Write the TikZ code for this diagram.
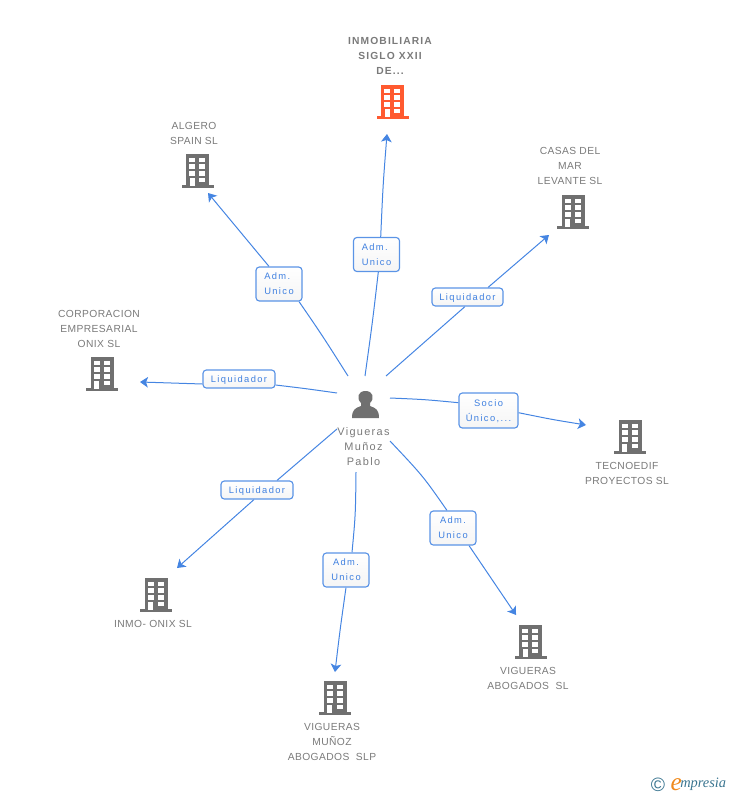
\documentclass[tikz,border=0pt]{standalone}
\usepackage{fontspec}
\setmainfont{Liberation Sans}
\newfontfamily\lblfont[LetterSpace=4]{Liberation Sans}
\newfontfamily\ttlfont[LetterSpace=11]{Liberation Sans}
\newfontfamily\perfont[LetterSpace=12]{Liberation Sans}
\newfontfamily\tagfont[LetterSpace=15]{Liberation Sans}
\newfontfamily\logofont{Liberation Serif}
\usetikzlibrary{arrows.meta,backgrounds}
\definecolor{linkblue}{HTML}{4585E2}
\definecolor{boxblue}{HTML}{5B94E6}
\definecolor{tagtext}{HTML}{3F80E0}
\definecolor{txtgray}{HTML}{7A7A7A}
\definecolor{bldggray}{HTML}{707070}
\definecolor{bldgorange}{HTML}{FF5A30}
\definecolor{logoteal}{HTML}{3A7590}
\definecolor{logoorange}{HTML}{F08A1D}
\tikzset{
  x=0.75pt,y=-0.75pt,
  bldg/.pic={
    \fill[pic actions] (-16,-3) rectangle (16,0);
    \fill[pic actions] (-11.5,-34) rectangle (11.5,-2);
    \foreach \wy in {-30.3,-23.7,-17}{
      \fill[white] (-8.2,\wy) rectangle (-2.2,\wy+4.7);
      \fill[white] (1.5,\wy) rectangle (7.5,\wy+4.7);
    }
    \fill[white] (1.5,-10.3) rectangle (7.5,-5.6);
    \fill[white] (-7.8,-10.3) rectangle (-2.8,-2);
  },
  tag/.style={draw=boxblue,line width=0.85pt,rounded corners=2.5pt,
    top color=white,bottom color=black!4,text=tagtext,font=\tagfont\fontsize{7pt}{11.25pt}\selectfont,inner sep=0pt,text depth=0pt},
  tagtwo/.style={tag,align=center,minimum width=46*0.75pt,minimum height=34*0.75pt},
  tagleft/.style={tag,align=left,minimum width=46*0.75pt,minimum height=34*0.75pt},
  tagone/.style={tag,minimum width=72*0.75pt,minimum height=18*0.75pt},
  co/.style={font=\lblfont\fontsize{7.7pt}{11.25pt}\selectfont,text=txtgray,align=center,inner sep=0pt},
  link/.style={draw=linkblue,line width=0.75pt},
  arr/.style={link,-{Stealth[length=6pt,width=8pt,inset=1.5pt]}},
}
\begin{document}
\begin{tikzpicture}
\useasboundingbox (0,0) rectangle (728,795);
% buildings
\pic[fill=bldgorange] at (392.5,119) {bldg};
\pic[fill=bldggray] at (197.5,188) {bldg};
\pic[fill=bldggray] at (573,229) {bldg};
\pic[fill=bldggray] at (102,391) {bldg};
\pic[fill=bldggray] at (630,454) {bldg};
\pic[fill=bldggray] at (156,612) {bldg};
\pic[fill=bldggray] at (335,715) {bldg};
\pic[fill=bldggray] at (530.5,659) {bldg};
% person
\fill[bldggray] (352,418) .. controls (352,410) and (355,408) .. (361,406) -- (361,403)
  .. controls (356,398) and (358,391) .. (365.5,391) .. controls (373,391) and (375,398) .. (370,403)
  -- (370,406) .. controls (376,408) and (379,410) .. (379,418) -- cycle;
\node[co,font=\perfont\fontsize{8.2pt}{11.25pt}\selectfont] (person) at (363.5,447) {Vigueras\\Muñoz\\Pablo};
% company labels
\node[co,font=\ttlfont\bfseries\fontsize{7.7pt}{11.25pt}\selectfont] (n1) at (390,56) {INMOBILIARIA\\SIGLO XXII\\DE...};
\node[co] (n2) at (194,133) {ALGERO\\SPAIN SL};
\node[co] (n3) at (570,166) {CASAS DEL\\MAR\\LEVANTE SL};
\node[co] (n4) at (99,329) {CORPORACION\\EMPRESARIAL\\ONIX SL};
\node[co] (n5) at (627,473) {TECNOEDIF\\PROYECTOS SL};
\node[co] (n6) at (153,624) {INMO- ONIX SL};
\node[co] (n7) at (332,742) {VIGUERAS\\MUÑOZ\\ABOGADOS\ \ SLP};
\node[co] (n8) at (528,678) {VIGUERAS\\ABOGADOS\ \ SL};
% role tags
\node[tagleft] (t1) at (376.5,254.5) {Adm.\\Unico};
\node[tagleft] (t2) at (279,284) {Adm.\\Unico};
\node[tagone,minimum width=71*0.75pt] (t3) at (467.5,297) {Liquidador};
\node[tagone] (t4) at (239,379) {Liquidador};
\node[tag,align=center,minimum width=59*0.75pt,minimum height=35*0.75pt] (t5) at (488.5,410.5) {Socio\\Único,...};
\node[tagtwo] (t6) at (453,528) {Adm.~\\Unico};
\node[tagtwo] (t7) at (346,570) {Adm.~\\Unico};
\node[tagone] (t8) at (257,490) {Liquidador};
% free ends
\coordinate (s1) at (365,376); \coordinate (e1) at (387,134);
\coordinate (s2) at (348,376); \coordinate (e2) at (208,193);
\coordinate (s3) at (386,376); \coordinate (e3) at (549,235);
\coordinate (s4) at (337,393); \coordinate (e4) at (140,382);
\coordinate (s5) at (390,398); \coordinate (e5) at (586,425);
\coordinate (s6) at (390,441); \coordinate (e6) at (516,615);
\coordinate (s7) at (356,472); \coordinate (e7) at (335,672);
\coordinate (s8) at (337,429); \coordinate (e8) at (177,568);
\begin{scope}[on background layer]
\draw[link] (s1) .. controls (372.5,322) .. ([xshift=1.35pt]t1.south);
\draw[arr] ([xshift=3.15pt]t1.north) .. controls (383,185) .. (e1);
\draw[link] (s2) .. controls (322,335) .. ([xshift=15pt]t2.south);
\draw[arr] ([xshift=-7.5pt]t2.north) -- (e2);
\draw[link] (s3) -- ([xshift=-1.9pt]t3.south);
\draw[arr] ([xshift=15.4pt]t3.north) -- (e3);
\draw[link] (s4) .. controls (305,388.5) .. ([yshift=-4.5pt]t4.east);
\draw[arr] ([yshift=-3.75pt]t4.west) -- (e4);
\draw[link] (s5) .. controls (425,399.5) .. ([yshift=5.85pt]t5.west);
\draw[arr] ([yshift=-1.65pt]t5.east) .. controls (552,419.5) .. (e5);
\draw[link] (s6) .. controls (423,476) .. ([xshift=-4.5pt]t6.north);
\draw[arr] ([xshift=12pt]t6.south) -- (e6);
\draw[link] (s7) .. controls (355.5,515) .. ([xshift=4.5pt]t7.north);
\draw[arr] (t7.south) .. controls (340,630) .. (e7);
\draw[link] (s8) -- ([xshift=15pt]t8.north);
\draw[arr] ([xshift=-2.25pt]t8.south) -- (e8);
\end{scope}
% logo
\node[inner sep=0pt,text=logoteal,font=\fontsize{14.5pt}{14.5pt}\selectfont] (copy) at (658,784.5) {©};
\node[inner sep=0pt,anchor=base west,font=\logofont\itshape\fontsize{10.8pt}{11pt}\selectfont,text=logoteal] (logo) at (680,787.5) {mpresia};
\node[inner sep=0pt,anchor=base east,font=\logofont\itshape\fontsize{19pt}{19pt}\selectfont,text=logoorange] (logoe) at (682,790) {e};
\end{tikzpicture}
\end{document}
